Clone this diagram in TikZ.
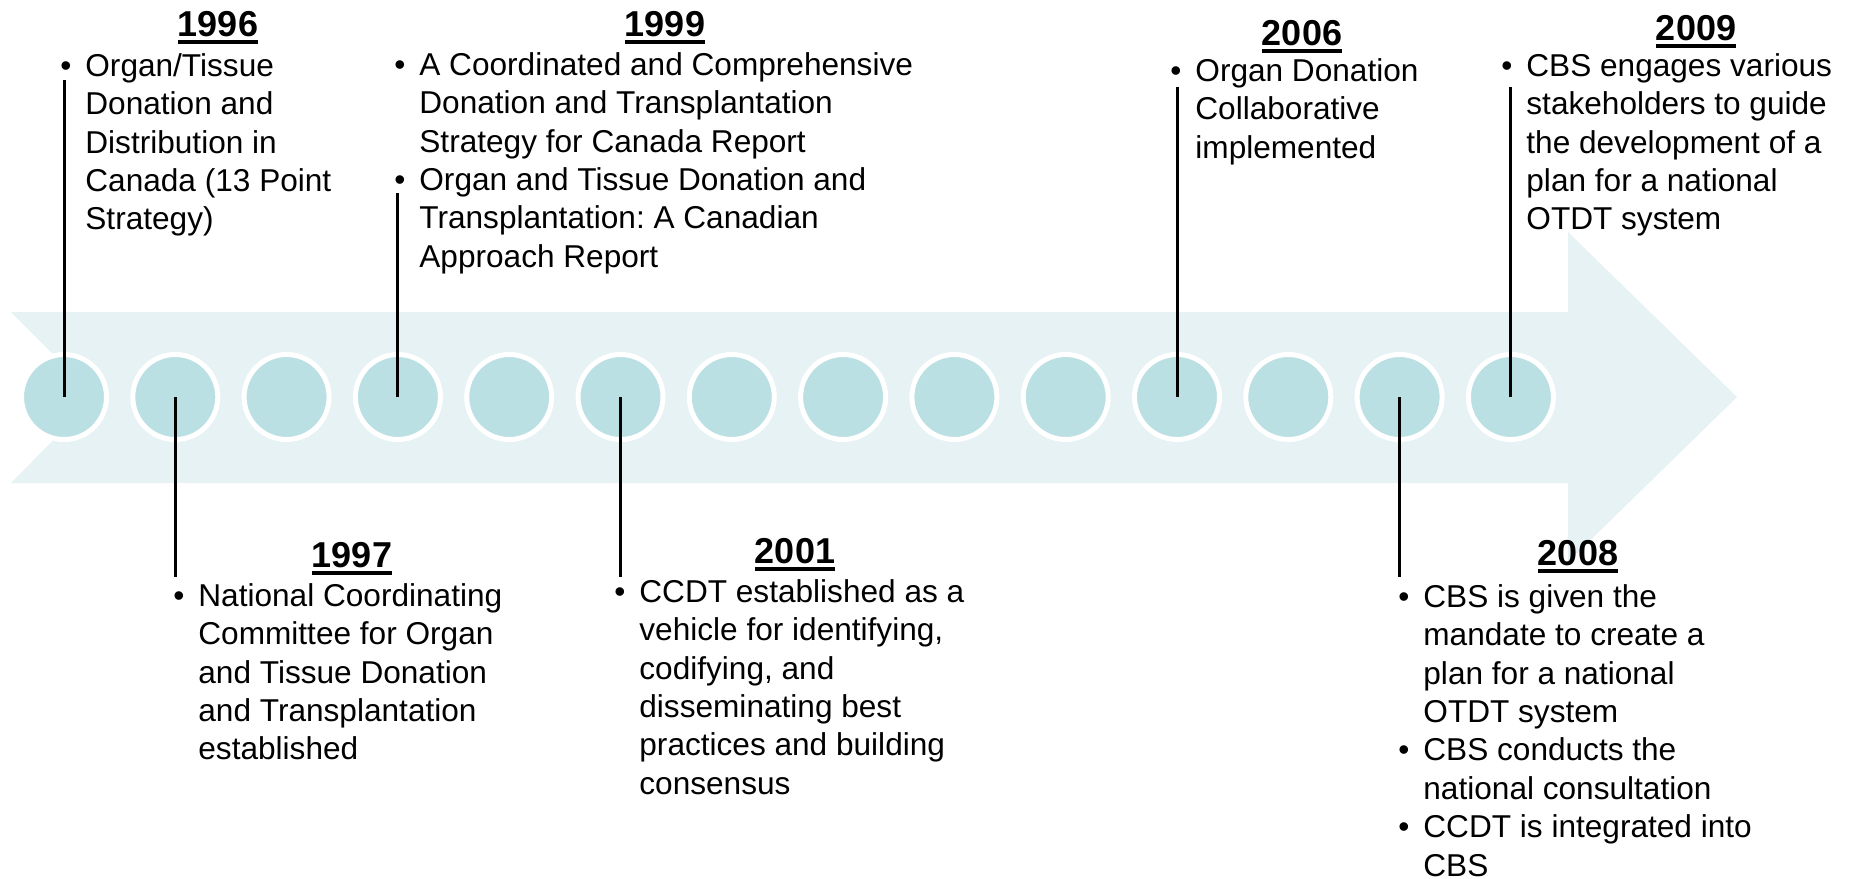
\documentclass[tikz,border=0pt]{standalone}
\usepackage{fontspec}
\setmainfont{Liberation Sans}
\frenchspacing

\definecolor{bandblue}{RGB}{230,242,244}
\definecolor{dotblue}{RGB}{187,224,227}

% bold year with a thick rule under it
\newcommand{\yr}[1]{\setbox0\hbox{#1}\rlap{\rule[-4pt]{\wd0}{2pt}}\box0}
\newcommand{\bul}{\strut\llap{\textbullet\hspace{7pt}}}

\begin{document}
\begin{tikzpicture} [x = 0.5pt, y = -0.5pt,
  dot/.style = {circle, fill = dotblue, draw = white, line width = 2.5pt, minimum size = 42.5pt, inner sep = 0pt},
  stem/.style = {line width = 1.5pt},
  yearlbl/.style = {anchor = base, inner sep = 0pt, font = \fontsize{18}{20}\selectfont\bfseries},
  evtext/.style = {anchor = north west, align = left, inner sep = 0pt, font = \fontsize{15.8}{19.2}\selectfont}]
\useasboundingbox (0, 0) rectangle (1856, 878);
% the band with its arrow head
\fill[bandblue] (11, 312) -- (1568, 312) -- (1568, 232) -- (1737, 397) -- (1568, 562) -- (1568, 483) -- (11, 483) -- (96, 397) -- cycle;
\foreach \i in {1, ..., 14}
  \node[dot] (c\i) at ({64 + (\i - 1)*111.3}, 397) {};
% stem ends
\coordinate (e1996) at (c1 |- 0, 80);
\coordinate (e1997) at (c2 |- 0, 577);
\coordinate (e1999) at (c4 |- 0, 193);
\coordinate (e2001) at (c6 |- 0, 577);
\coordinate (e2006) at (c11 |- 0, 87);
\coordinate (e2008) at (c13 |- 0, 577);
\coordinate (e2009) at (c14 |- 0, 87);
\draw[stem] (c1.center) -- (e1996);
\draw[stem] (c2.center) -- (e1997);
\draw[stem] (c4.center) -- (e1999);
\draw[stem] (c6.center) -- (e2001);
\draw[stem] (c11.center) -- (e2006);
\draw[stem] (c13.center) -- (e2008);
\draw[stem] (c14.center) -- (e2009);
% above the band
\node[yearlbl] (y1996) at (218, 36) {\yr{1996}};
\node[evtext] (t1996) at (85, 49.1) {\bul Organ/Tissue\\Donation and\\Distribution in\\Canada (13 Point\\Strategy)};
\node[yearlbl] (y1999) at (665, 36) {\yr{1999}};
\node[evtext] (t1999) at (419, 48.1) {\bul A Coordinated and Comprehensive\\Donation and Transplantation\\Strategy for Canada Report\\\bul Organ and Tissue Donation and\\Transplantation: A Canadian\\Approach Report};
\node[yearlbl] (y2006) at (1302, 45) {\yr{2006}};
\node[evtext] (t2006) at (1195, 54.1) {\bul Organ Donation\\Collaborative\\implemented};
\node[yearlbl] (y2009) at (1696, 40) {\yr{2009}};
\node[evtext] (t2009) at (1526, 49.1) {\bul CBS engages various\\stakeholders to guide\\the development of a\\plan for a national\\OTDT system};
% below the band
\node[yearlbl] (y1997) at (352, 567) {\yr{1997}};
\node[evtext] (t1997) at (198, 579.1) {\bul National Coordinating\\Committee for Organ\\and Tissue Donation\\and Transplantation\\established};
\node[yearlbl] (y2001) at (795, 563) {\yr{2001}};
\node[evtext] (t2001) at (639, 575.1) {\bul CCDT established as a\\vehicle for identifying,\\codifying, and\\disseminating best\\practices and building\\consensus};
\node[yearlbl] (y2008) at (1578, 565) {\yr{2008}};
\node[evtext] (t2008) at (1423, 580.1) {\bul CBS is given the\\mandate to create a\\plan for a national\\OTDT system\\\bul CBS conducts the\\national consultation\\\bul CCDT is integrated into\\CBS};
\end{tikzpicture}
\end{document}
